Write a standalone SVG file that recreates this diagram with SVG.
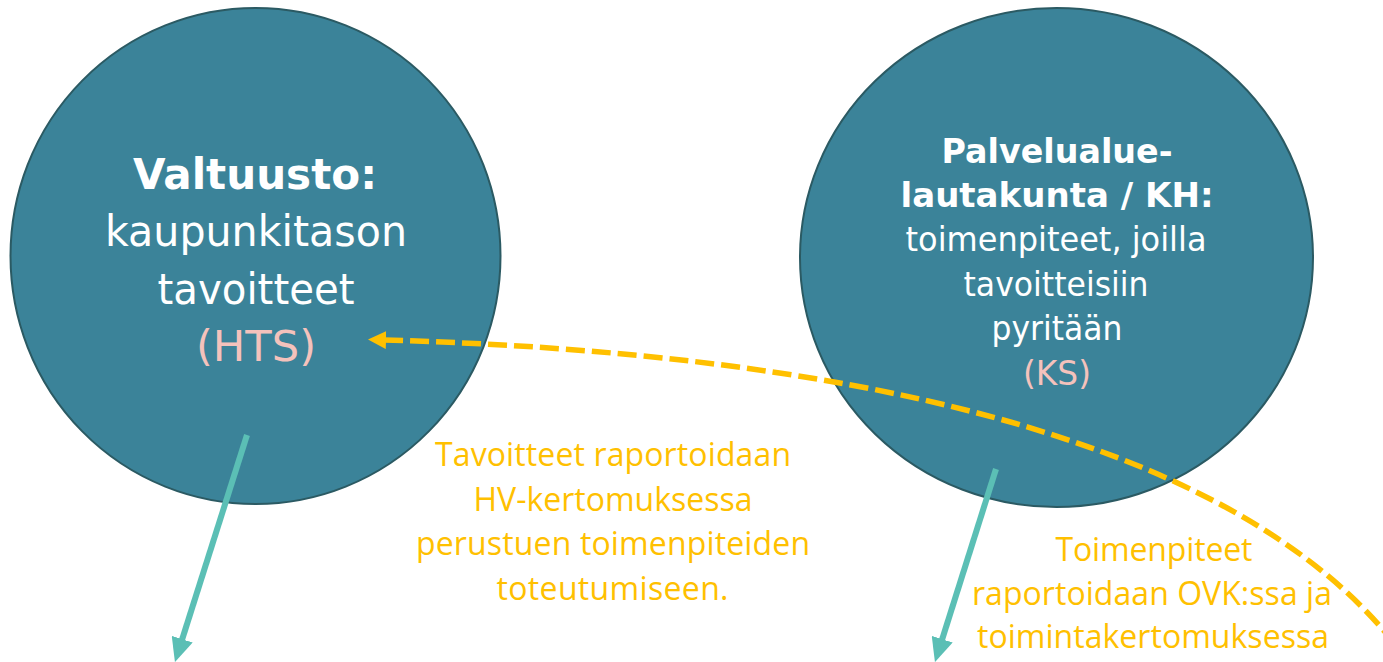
<svg xmlns="http://www.w3.org/2000/svg" width="1383" height="662" viewBox="0 0 1383 662">
  <style>
    .node { fill: #3B8399; stroke: #2B5A63; stroke-width: 2; }
    .t { font-family: "DejaVu Sans", Verdana, sans-serif; fill: #FFFFFF; text-anchor: middle; }
    .b { font-weight: bold; }
    .pink { fill: #F4C2BC; }
    .lbl { font-family: "Open Sans", "Liberation Sans", sans-serif; font-size: 32px; fill: #FFC000; text-anchor: middle; }
    .teal { stroke: #5BBFB5; stroke-width: 6; fill: none; }
    .dash { stroke: #FFC000; stroke-width: 5.5; fill: none; stroke-dasharray: 19 7; }
  </style>
  <defs>
    <marker id="tealHead" markerUnits="userSpaceOnUse" markerWidth="24" markerHeight="22" refX="4" refY="11" orient="auto">
      <path d="M0,0 L24,11 L0,22 z" fill="#5BBFB5"/>
    </marker>
    <marker id="orangeHead" markerUnits="userSpaceOnUse" markerWidth="18" markerHeight="18" refX="2" refY="9" orient="auto-start-reverse">
      <path d="M0,0 L18,9 L0,18 z" fill="#FFC000"/>
    </marker>
  </defs>
  <rect width="1383" height="662" fill="#FFFFFF"/>

  <g id="node-valtuusto">
    <ellipse class="node" cx="255.5" cy="256" rx="245" ry="248"/>
    <text class="t b" x="255" y="189" font-size="43" textLength="244" lengthAdjust="spacingAndGlyphs">Valtuusto:</text>
    <text class="t" x="256" y="246" font-size="43" textLength="302" lengthAdjust="spacingAndGlyphs">kaupunkitason</text>
    <text class="t" x="256" y="304" font-size="43" textLength="197" lengthAdjust="spacingAndGlyphs">tavoitteet</text>
    <text class="t pink" x="256" y="361" font-size="43" textLength="120" lengthAdjust="spacingAndGlyphs">(HTS)</text>
  </g>

  <g id="node-palvelualue">
    <ellipse class="node" cx="1056.5" cy="257.5" rx="256.5" ry="249.5"/>
    <text class="t b" x="1057" y="163" font-size="33" textLength="231" lengthAdjust="spacingAndGlyphs">Palvelualue-</text>
    <text class="t b" x="1057" y="207" font-size="33" textLength="313" lengthAdjust="spacingAndGlyphs">lautakunta / KH:</text>
    <text class="t" x="1056" y="251" font-size="33" textLength="301" lengthAdjust="spacingAndGlyphs">toimenpiteet, joilla</text>
    <text class="t" x="1056" y="296" font-size="33" textLength="185" lengthAdjust="spacingAndGlyphs">tavoitteisiin</text>
    <text class="t" x="1057" y="340" font-size="33" textLength="131" lengthAdjust="spacingAndGlyphs">pyritään</text>
    <text class="t pink" x="1057" y="385" font-size="33" textLength="68" lengthAdjust="spacingAndGlyphs">(KS)</text>
  </g>

  <g id="connectors">
    <line class="teal" x1="247" y1="435" x2="181" y2="643" marker-end="url(#tealHead)"/>
    <line class="teal" x1="996" y1="469" x2="941" y2="643" marker-end="url(#tealHead)"/>
    <path class="dash" d="M384,340 C820,352 1230,430 1398,648" marker-start="url(#orangeHead)"/>
  </g>

  <g id="label-tavoitteet">
    <text class="lbl" x="613" y="466" textLength="356">Tavoitteet raportoidaan</text>
    <text class="lbl" x="613" y="511" textLength="279">HV-kertomuksessa</text>
    <text class="lbl" x="613" y="555" textLength="394">perustuen toimenpiteiden</text>
    <text class="lbl" x="612.5" y="600" textLength="232">toteutumiseen.</text>
  </g>

  <g id="label-toimenpiteet">
    <text class="lbl" x="1154" y="561" textLength="197">Toimenpiteet</text>
    <text class="lbl" x="1152" y="605" textLength="360">raportoidaan OVK:ssa ja</text>
    <text class="lbl" x="1153" y="648" textLength="352">toimintakertomuksessa</text>
  </g>
</svg>
